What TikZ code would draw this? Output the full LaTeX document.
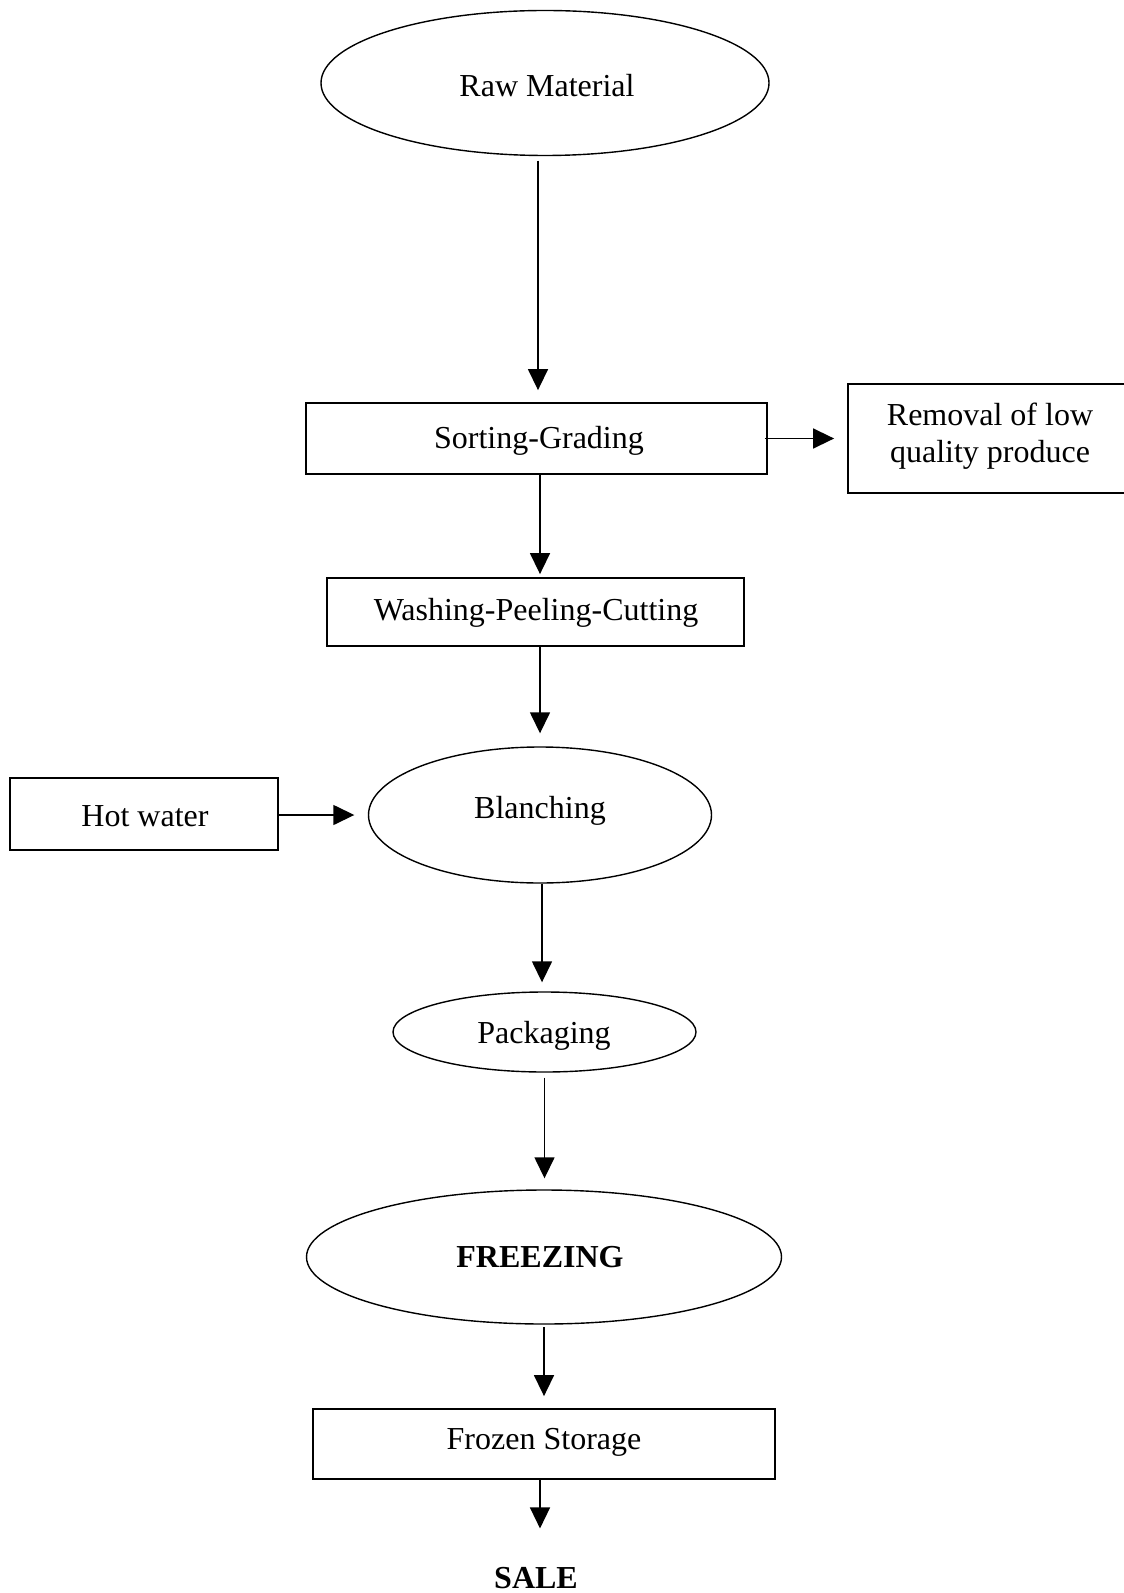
\documentclass[tikz,border=0pt]{standalone}
\usepackage{fontspec}
\setmainfont{Liberation Serif}
\usetikzlibrary{shapes.geometric,arrows.meta}
\begin{document}
\begin{tikzpicture}[x=0.5pt,y=-0.5pt,
 boxnode/.style={draw,line width=0.9pt,rectangle,inner sep=0pt},
 ovalnode/.style={draw,line width=0.7pt,ellipse,inner sep=0pt},
 txt/.style={inner sep=0pt,anchor=base,font=\fontsize{16}{18.5}\selectfont},
 btxt/.style={txt,font=\fontsize{16}{18.5}\selectfont\bfseries},
 arr/.style={line width=0.75pt,-{Triangle[length=10.5pt,width=10pt]}}]
\useasboundingbox (0,0) rectangle (1123,1593);

\node[ovalnode,minimum width=224pt,minimum height=72.5pt] (raw) at (545,83) {};
\node[txt] (rawt) at (547,97) {Raw Material};

\node[boxnode,minimum width=230.5pt,minimum height=35.5pt] (sort) at (536.5,438.5) {};
\node[txt] (sortt) at (539,449) {Sorting-Grading};

\node[boxnode,minimum width=143.5pt,minimum height=54.5pt] (rem) at (991.5,438.5) {};
\node[txt] (rem1) at (990,425) {Removal of low};
\node[txt] (rem2) at (990,462) {quality produce};

\node[boxnode,minimum width=208.5pt,minimum height=34pt] (wash) at (535.5,612) {};
\node[txt] (washt) at (536,620) {Washing-Peeling-Cutting};

\node[boxnode,minimum width=134pt,minimum height=36pt] (hot) at (144,814) {};
\node[txt] (hott) at (145,826) {Hot water};

\node[ovalnode,minimum width=171.5pt,minimum height=68pt] (blanch) at (540,815) {};
\node[txt] (blancht) at (540,818) {Blanching};

\node[ovalnode,minimum width=151.5pt,minimum height=40pt] (pack) at (544.5,1032) {};
\node[txt] (packt) at (544,1043) {Packaging};

\node[ovalnode,minimum width=237.5pt,minimum height=67pt] (freeze) at (544,1257) {};
\node[btxt] (freezet) at (540,1267) {FREEZING};

\node[boxnode,minimum width=231pt,minimum height=35pt] (frozen) at (544,1444) {};
\node[txt] (frozent) at (544,1449) {Frozen Storage};

\node[btxt] (sale) at (536,1588) {SALE};

\draw[arr,shorten <=2.25pt,shorten >=6pt] ([xshift=-3.5pt]raw.south) -- ([xshift=-3.5pt]raw.south |- sort.north);
\draw[arr,shorten >=1.5pt] ([xshift=1.75pt]sort.south) -- ([xshift=1.75pt]sort.south |- wash.north);
\draw[arr,shorten >=6.5pt] ([xshift=2.25pt]wash.south) -- ([xshift=2.25pt]wash.south |- blanch.north);
\draw[arr,shorten >=4.5pt] ([xshift=1pt]blanch.south) -- ([xshift=1pt]blanch.south |- pack.north);
\draw[arr,shorten <=2.5pt,shorten >=5.5pt] (pack.south) -- (pack.south |- freeze.north);
\draw[arr,shorten <=1.25pt,shorten >=6pt] (freeze.south) -- (freeze.south |- frozen.north);
\draw[arr,shorten >=19pt] ([xshift=-2pt]frozen.south) -- ([xshift=-2pt]frozen.south |- sale.north);
\draw[arr,shorten >=6.75pt] ([yshift=-0.5pt]hot.east) -- ([yshift=-0.5pt]hot.east -| blanch.west);
\draw[arr,shorten <=-1.5pt,shorten >=6.5pt] (sort.east) -- (sort.east -| rem.west);
\end{tikzpicture}
\end{document}
